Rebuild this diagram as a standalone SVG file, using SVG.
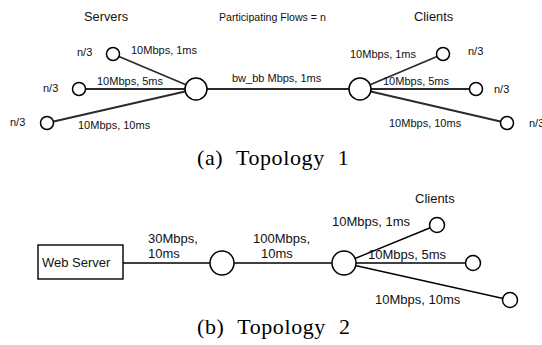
<svg xmlns="http://www.w3.org/2000/svg" width="542" height="345" viewBox="0 0 542 345">
<style>
.t{font-family:"Liberation Sans",Arial,sans-serif;font-size:11px;fill:#111}
.h{font-family:"Liberation Sans",Arial,sans-serif;font-size:12.8px;fill:#111}
.b{font-family:"Liberation Sans",Arial,sans-serif;font-size:13px;fill:#111}
.cap{font-family:"Liberation Serif","Times New Roman",serif;font-size:22px;fill:#000;letter-spacing:0.6px;word-spacing:7px}
.n{fill:#fff;stroke:#000;stroke-width:1.5}
.l1{stroke:#2a2a2a;stroke-width:1.8;fill:none}
.l2{stroke:#000;stroke-width:1.4;fill:none}
</style>
<rect width="542" height="345" fill="#fff"/>
<g id="connectors">
<line class="l1" x1="113" y1="54" x2="196" y2="89"/>
<line class="l1" x1="79" y1="89" x2="196" y2="89"/>
<line class="l1" x1="47" y1="123" x2="196" y2="89"/>
<line class="l1" x1="196" y1="89" x2="360" y2="89"/>
<line class="l1" x1="360" y1="89" x2="443" y2="54"/>
<line class="l1" x1="360" y1="89" x2="476" y2="89"/>
<line class="l1" x1="360" y1="89" x2="507" y2="123"/>
<line class="l2" x1="123" y1="263" x2="222" y2="263"/>
<line class="l2" x1="222" y1="263" x2="344" y2="263"/>
<line class="l2" x1="344" y1="263" x2="437" y2="225"/>
<line class="l2" x1="344" y1="263" x2="473" y2="263"/>
<line class="l2" x1="344" y1="263" x2="510" y2="300"/>
</g>
<g id="t1-server1"><circle class="n" cx="113" cy="54" r="6.5"/></g>
<g id="t1-server2"><circle class="n" cx="79" cy="89" r="6.5"/></g>
<g id="t1-server3"><circle class="n" cx="47" cy="123" r="6.5"/></g>
<g id="t1-hub-left"><circle class="n" cx="196" cy="89" r="11"/></g>
<g id="t1-hub-right"><circle class="n" cx="360" cy="89" r="11"/></g>
<g id="t1-client1"><circle class="n" cx="443" cy="54" r="6.5"/></g>
<g id="t1-client2"><circle class="n" cx="476" cy="89" r="6.5"/></g>
<g id="t1-client3"><circle class="n" cx="507" cy="123" r="6.5"/></g>
<g id="t1-labels">
<text class="h" x="84" y="21">Servers</text>
<text class="t" x="219" y="21" style="font-size:10.6px">Participating Flows = n</text>
<text class="h" x="414" y="21">Clients</text>
<text class="t" x="77" y="56">n/3</text>
<text class="t" x="43" y="92">n/3</text>
<text class="t" x="10" y="126">n/3</text>
<text class="t" x="468" y="55">n/3</text>
<text class="t" x="494" y="93">n/3</text>
<text class="t" x="529" y="127">n/3</text>
<text class="t" x="131" y="54">10Mbps, 1ms</text>
<text class="t" x="97" y="85">10Mbps, 5ms</text>
<text class="t" x="78" y="129">10Mbps, 10ms</text>
<text class="t" x="232" y="82">bw_bb Mbps, 1ms</text>
<text class="t" x="350" y="58">10Mbps, 1ms</text>
<text class="t" x="383" y="85">10Mbps, 5ms</text>
<text class="t" x="389" y="127">10Mbps, 10ms</text>
</g>
<text class="cap" x="197" y="165">(a) Topology 1</text>
<g id="t2-webserver"><rect x="38" y="245" width="85" height="34" fill="#fff" stroke="#000" stroke-width="1.4"/><text class="b" x="42" y="267">Web Server</text></g>
<g id="t2-router"><circle class="n" cx="222" cy="263" r="12"/></g>
<g id="t2-hub"><circle class="n" cx="344" cy="263" r="12"/></g>
<g id="t2-client1"><circle class="n" cx="437" cy="225" r="7.5"/></g>
<g id="t2-client2"><circle class="n" cx="473" cy="263" r="7.5"/></g>
<g id="t2-client3"><circle class="n" cx="510" cy="300" r="7.5"/></g>
<g id="t2-labels">
<text class="b" x="148" y="243">30Mbps,</text>
<text class="b" x="148" y="258">10ms</text>
<text class="b" x="253" y="243">100Mbps,</text>
<text class="b" x="261" y="258">10ms</text>
<text class="b" x="415" y="203">Clients</text>
<text class="b" x="332" y="226">10Mbps, 1ms</text>
<text class="b" x="368" y="259">10Mbps, 5ms</text>
<text class="b" x="375" y="304">10Mbps, 10ms</text>
</g>
<text class="cap" x="197" y="334">(b) Topology 2</text>
</svg>
